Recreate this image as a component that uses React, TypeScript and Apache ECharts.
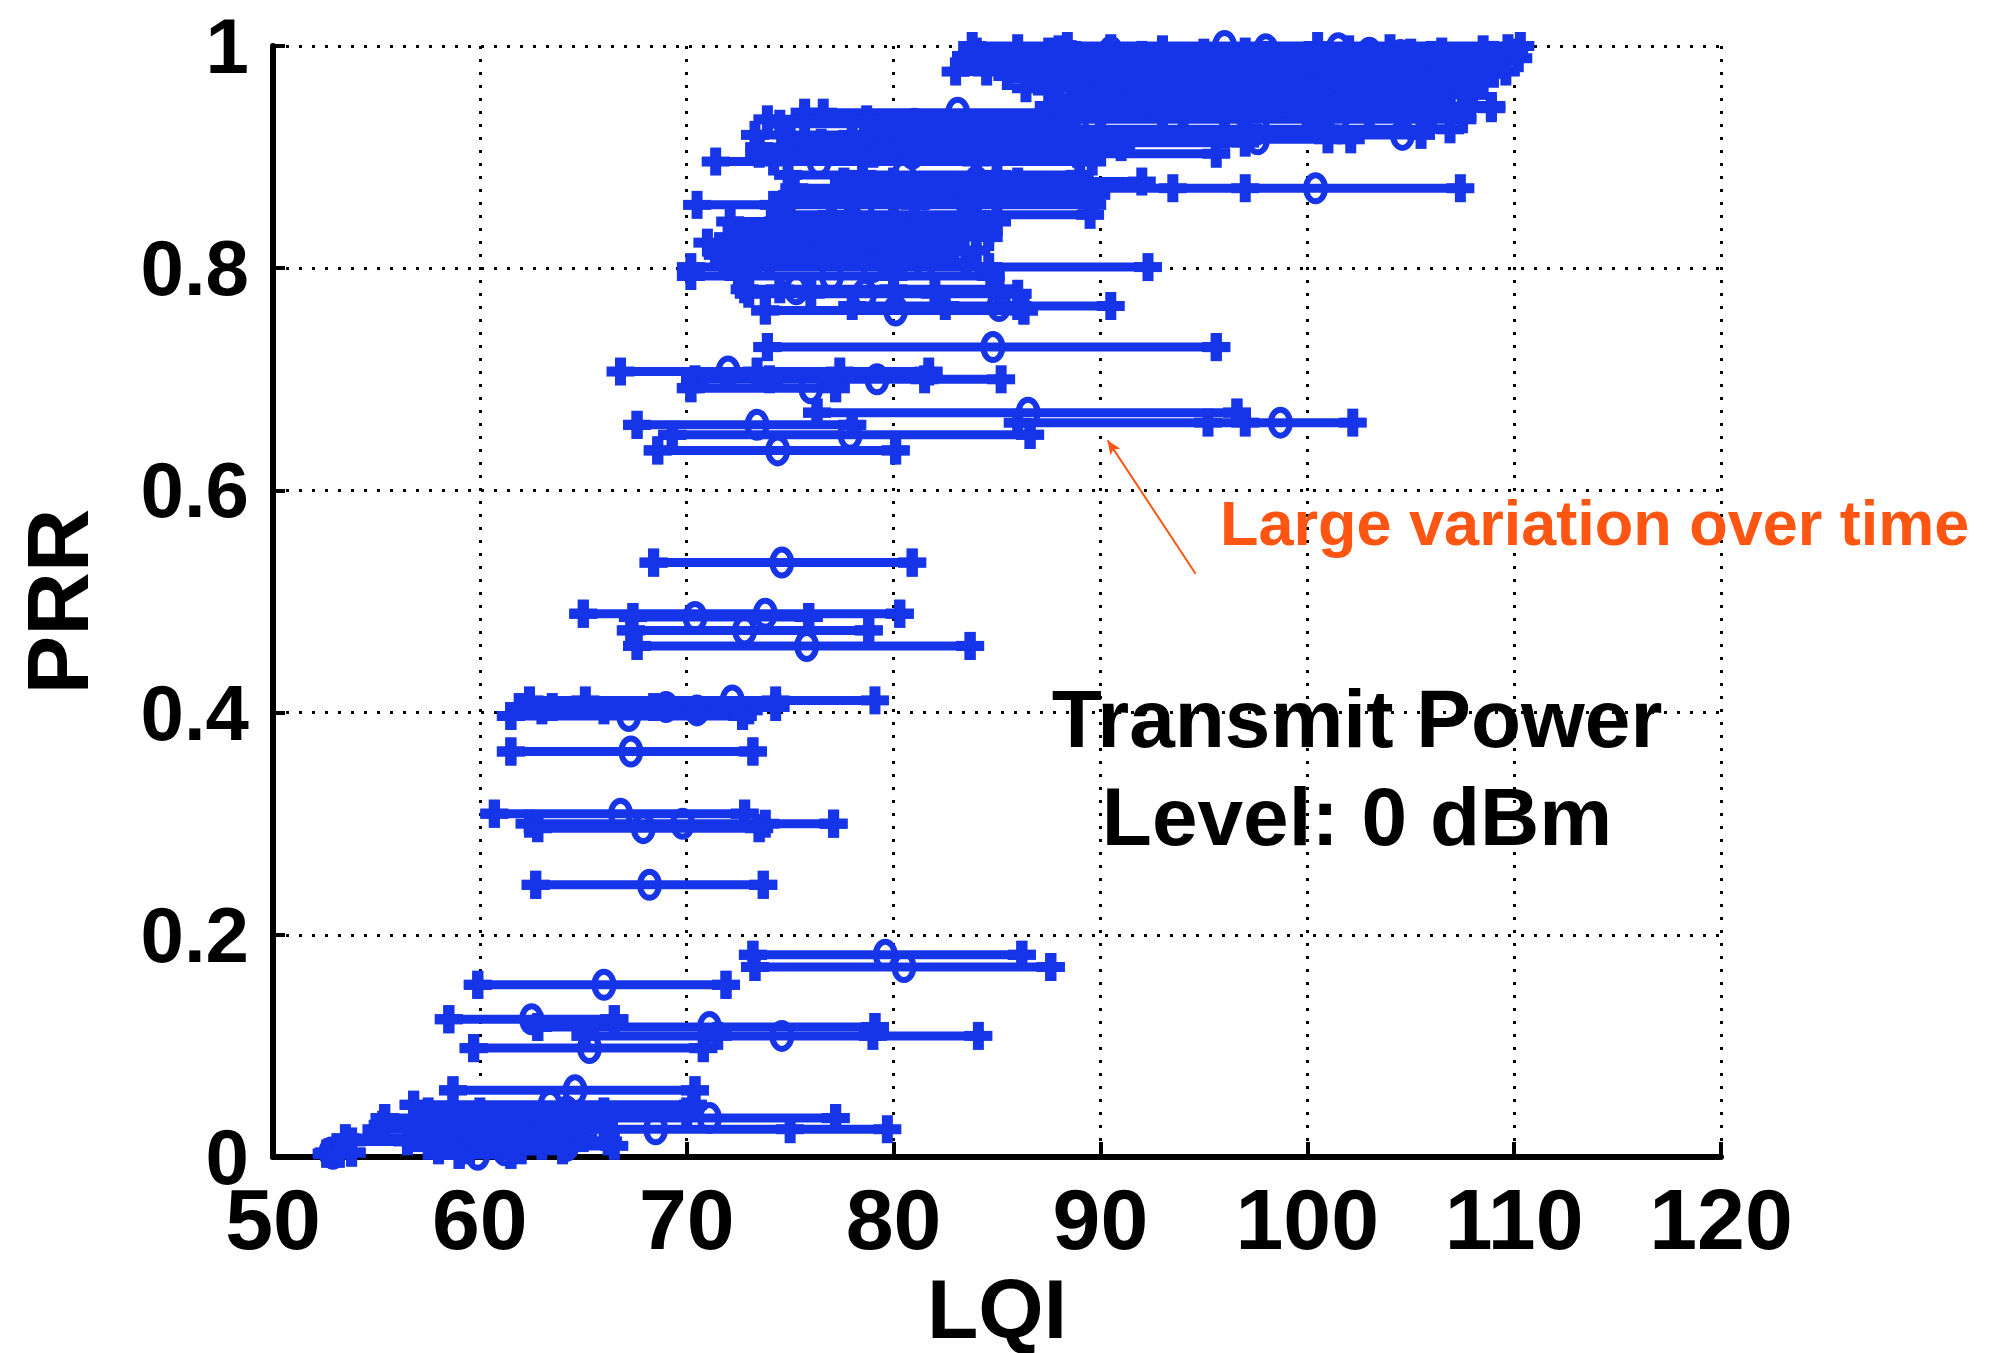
import { useEffect, useRef } from "react";
import * as echarts from "echarts";

// Each link: [PRR, LQI min, inner mark, inner mark, LQI max, centre marker]
type Link = [number, number, number, number, number, number];

const xTickValues = [50, 60, 70, 80, 90, 100, 110, 120];
const yTickValues = [0, 0.2, 0.4, 0.6, 0.8, 1];

const bottomLinks: Link[] = [
  [0.060, 58.7, 58.7, 70.4, 70.4, 64.6],
  [0.047, 56.8, 56.8, 70.3, 70.3, 63.4],
  [0.041, 57.5, 60.0, 66.0, 70.0, 64.2],
  [0.035, 55.4, 55.4, 77.2, 77.2, 71.1],
  [0.029, 55.3, 58.0, 63.0, 66.0, 63.6],
  [0.025, 55.0, 60.0, 75.0, 79.7, 68.5],
  [0.022, 57.8, 58.5, 62.5, 63.5, 60.0],
  [0.017, 53.5, 57.0, 63.0, 65.0, 61.0],
  [0.014, 53.8, 56.5, 62.5, 66.2, 60.5],
  [0.010, 57.5, 58.5, 63.0, 66.5, 64.2],
  [0.006, 58.0, 59.5, 62.0, 64.0, 61.2],
  [0.004, 52.7, 52.7, 53.8, 53.8, 52.8],
  [0.003, 52.6, 52.6, 53.2, 53.2, 52.9],
  [0.002, 59.0, 59.0, 61.5, 61.5, 59.9],
];

const lowLinks: Link[] = [
  [0.182, 73.2, 73.2, 86.2, 86.2, 79.6],
  [0.171, 73.3, 73.3, 87.6, 87.6, 80.5],
  [0.155, 59.9, 59.9, 71.9, 71.9, 66.0],
  [0.124, 58.5, 58.5, 66.5, 66.5, 62.5],
  [0.117, 62.8, 62.8, 79.1, 79.1, 71.1],
  [0.109, 65.1, 71.5, 79.0, 84.1, 74.6],
  [0.098, 59.7, 59.7, 70.8, 70.8, 65.3],
];

const middleLinks: Link[] = [
  [0.245, 62.7, 62.7, 73.7, 73.7, 68.2],
  [0.309, 60.7, 60.7, 72.8, 72.8, 66.8],
  [0.300, 62.4, 73.8, 77.1, 77.1, 69.8],
  [0.296, 62.8, 62.8, 73.5, 73.5, 67.9],
  [0.365, 61.5, 61.5, 73.2, 73.2, 67.3],
  [0.411, 62.4, 65.1, 74.3, 79.1, 72.2],
  [0.405, 61.9, 63.5, 68.4, 74.3, 69.0],
  [0.402, 63.0, 66.0, 70.5, 73.0, 70.5],
  [0.397, 61.5, 61.5, 72.7, 72.7, 67.2],
  [0.460, 67.6, 67.6, 83.7, 83.7, 75.8],
  [0.474, 67.3, 67.3, 78.8, 78.8, 72.8],
  [0.486, 67.4, 67.4, 75.9, 75.9, 70.4],
  [0.489, 65.0, 65.0, 80.3, 80.3, 73.8],
  [0.535, 68.4, 68.4, 80.9, 80.9, 74.6],
];

const upperMiddleLinks: Link[] = [
  [0.729, 73.9, 73.9, 95.6, 95.6, 84.8],
  [0.707, 66.8, 73.4, 77.4, 81.7, 72.0],
  [0.700, 70.4, 74.0, 81.5, 85.2, 79.2],
  [0.692, 70.2, 70.2, 77.2, 77.2, 76.0],
  [0.670, 76.3, 76.3, 96.6, 96.6, 86.5],
  [0.661, 86.0, 95.2, 97.0, 102.2, 98.7],
  [0.659, 67.6, 67.6, 78.0, 78.0, 73.4],
  [0.650, 69.3, 69.3, 86.6, 86.6, 77.9],
  [0.636, 68.6, 68.6, 80.1, 80.1, 74.4],
];

const upperLinks: Link[] = [
  [0.766, 78.0, 82.5, 86.0, 90.5, 85.1],
  [0.762, 73.8, 73.8, 86.3, 86.3, 80.1],
  [0.781, 72.8, 74.5, 80.0, 85.1, 75.3],
  [0.777, 73.0, 76.0, 82.0, 86.0, 78.6],
  [0.793, 70.2, 72.5, 80.0, 84.7, 77.0],
  [0.801, 70.2, 73.0, 84.6, 92.3, 79.0],
  [0.805, 71.8, 74.0, 79.5, 83.5, 81.5],
  [0.812, 71.5, 75.0, 80.0, 82.5, 77.0],
  [0.816, 72.5, 76.5, 82.0, 84.0, 79.0],
  [0.823, 71.0, 73.0, 79.0, 83.0, 76.5],
  [0.828, 72.0, 74.5, 81.0, 84.6, 78.0],
  [0.834, 72.5, 74.0, 82.0, 84.6, 77.5],
  [0.842, 72.1, 75.0, 80.0, 85.0, 78.0],
  [0.848, 74.5, 77.0, 84.0, 89.5, 80.5],
  [0.857, 70.5, 74.2, 81.0, 89.6, 78.5],
  [0.862, 74.9, 78.0, 83.5, 89.5, 83.5],
  [0.866, 75.1, 79.0, 84.0, 89.8, 81.5],
  [0.872, 75.2, 93.5, 97.0, 107.4, 100.4],
  [0.878, 77.6, 80.0, 86.0, 92.0, 84.0],
  [0.884, 74.9, 78.5, 85.0, 89.0, 80.5],
  [0.896, 71.4, 74.2, 84.0, 89.6, 76.4],
  [0.903, 73.5, 79.0, 88.9, 95.6, 80.9],
  [0.909, 73.5, 76.0, 85.0, 91.0, 79.5],
];

const nearTopLinks: Link[] = [
  [0.944, 91.1, 93.0, 95.4, 108.9, 100.0],
  [0.940, 75.7, 76.6, 88.0, 100.0, 83.1],
  [0.934, 73.9, 75.7, 78.7, 107.5, 89.7],
  [0.930, 74.5, 84.1, 86.4, 88.4, 81.0],
  [0.925, 79.0, 84.0, 100.9, 106.9, 97.6],
  [0.920, 73.3, 78.0, 96.0, 105.5, 104.6],
  [0.916, 75.0, 88.0, 101.0, 102.1, 97.6],
  [0.913, 76.5, 80.0, 90.0, 97.0, 79.5],
];

const topLinks: Link[] = [
  [0.937, 93.0, 97.0, 103.0, 107.5, 101.5],
  [0.940, 90.0, 94.0, 100.5, 106.0, 97.0],
  [0.946, 87.5, 92.0, 101.0, 108.9, 97.0],
  [0.950, 91.0, 95.5, 101.5, 106.5, 99.0],
  [0.953, 88.0, 92.5, 99.0, 105.0, 96.0],
  [0.956, 93.0, 97.5, 103.5, 108.0, 100.5],
  [0.959, 89.0, 94.0, 102.0, 107.5, 98.5],
  [0.962, 86.4, 92.0, 100.0, 106.1, 96.5],
  [0.965, 95.0, 98.5, 103.0, 107.1, 101.5],
  [0.968, 87.0, 91.0, 101.0, 106.0, 97.5],
  [0.970, 92.5, 97.0, 104.5, 108.5, 101.0],
  [0.973, 85.5, 89.0, 96.0, 102.0, 92.5],
  [0.975, 90.0, 94.5, 104.0, 109.0, 100.0],
  [0.977, 83.0, 84.5, 99.0, 109.6, 93.0],
  [0.979, 86.0, 90.0, 98.0, 105.5, 94.5],
  [0.981, 96.0, 100.0, 105.0, 108.8, 103.0],
  [0.983, 88.5, 93.0, 103.0, 108.0, 99.5],
  [0.985, 83.4, 87.0, 95.0, 103.0, 91.0],
  [0.987, 94.0, 99.0, 106.0, 109.5, 103.5],
  [0.989, 85.0, 89.0, 100.0, 110.2, 97.0],
  [0.991, 83.5, 86.0, 92.0, 104.0, 88.7],
  [0.992, 92.0, 98.0, 106.0, 109.0, 104.5],
  [0.994, 90.5, 95.0, 105.0, 110.0, 103.0],
  [0.995, 84.0, 87.5, 97.0, 106.5, 90.5],
  [0.997, 88.0, 93.0, 102.0, 108.5, 98.0],
  [0.998, 86.0, 90.5, 104.0, 109.7, 101.5],
  [1.000, 83.8, 88.4, 100.5, 110.3, 96.0],
];

// Annotation arrow, in data coordinates: tail then head
const arrowTail = [94.6, 0.525];
const arrowHead = [90.35, 0.645];

const BLUE = "#1634e8";
const ORANGE = "#ff5512";
const FONT = "Liberation Sans";

export default function App() {
  const ref = useRef<HTMLDivElement>(null);

  useEffect(() => {
    document.body.style.margin = "0";
    if (!ref.current) return;
    const chart = echarts.init(ref.current, null, { renderer: "svg" });

    const links: Link[] = [
      ...bottomLinks,
      ...lowLinks,
      ...middleLinks,
      ...upperMiddleLinks,
      ...upperLinks,
      ...nearTopLinks,
      ...topLinks,
    ];

    const gridLine = { show: true, lineStyle: { color: "#000", width: 3, type: [3, 10] as number[] } };

    chart.setOption({
      animation: false,
      backgroundColor: "#fff",
      grid: { left: 273, right: 271, top: 46, bottom: 196, outerBoundsMode: "none", containLabel: false },
      xAxis: {
        type: "value",
        min: xTickValues[0],
        max: xTickValues[xTickValues.length - 1],
        interval: 10,
        name: "LQI",
        nameLocation: "middle",
        nameGap: 88,
        nameTextStyle: { fontFamily: FONT, fontWeight: "bold", fontSize: 84, lineHeight: 80, color: "#000" },
        axisLine: { show: true, onZero: false, lineStyle: { color: "#000", width: 6 } },
        axisTick: { show: true, inside: true, length: 15, lineStyle: { color: "#000", width: 4 } },
        axisLabel: { fontFamily: FONT, fontWeight: "bold", fontSize: 86, color: "#000", margin: 19 },
        splitLine: gridLine,
      },
      yAxis: {
        type: "value",
        min: yTickValues[0],
        max: yTickValues[yTickValues.length - 1],
        interval: 0.2,
        name: "PRR",
        nameLocation: "middle",
        nameRotate: 90,
        nameGap: 172,
        nameTextStyle: { fontFamily: FONT, fontWeight: "bold", fontSize: 88, color: "#000" },
        axisLine: { show: true, onZero: false, lineStyle: { color: "#000", width: 6 } },
        axisTick: { show: true, inside: true, length: 12, lineStyle: { color: "#000", width: 4 } },
        axisLabel: { fontFamily: FONT, fontWeight: "bold", fontSize: 78, color: "#000", margin: 24 },
        splitLine: gridLine,
      },
      series: [
        {
          type: "custom",
          data: links,
          dimensions: ["prr", "min", "a", "b", "max", "centre"],
          encode: { x: [1, 2, 3, 4, 5], y: 0 },
          clip: false,
          renderItem: (_params: any, api: any) => {
            const prr = api.value(0);
            const marks = [1, 2, 3, 4].map((d) => api.coord([api.value(d), prr]));
            const c = api.coord([api.value(5), prr]);
            const first = marks[0];
            const last = marks[3];
            const children: any[] = [
              {
                type: "line",
                shape: { x1: first[0], y1: first[1], x2: last[0], y2: last[1] },
                style: { stroke: BLUE, lineWidth: 9 },
              },
            ];
            marks.forEach((p: number[]) => {
              children.push({
                type: "rect",
                shape: { x: p[0] - 5.5, y: p[1] - 14, width: 11, height: 28 },
                style: { fill: BLUE },
              });
              children.push({
                type: "rect",
                shape: { x: p[0] - 14, y: p[1] - 5, width: 28, height: 10 },
                style: { fill: BLUE },
              });
            });
            children.push({
              type: "ellipse",
              shape: { cx: c[0], cy: c[1], rx: 9.5, ry: 13 },
              style: { fill: "none", stroke: BLUE, lineWidth: 6 },
            });
            return { type: "group", children };
          },
          z: 3,
        },
        {
          type: "line",
          data: [],
          silent: true,
          markLine: {
            silent: true,
            symbol: ["none", "arrow"],
            symbolSize: [9, 14],
            label: { show: false },
            lineStyle: { color: ORANGE, width: 2, type: "solid" },
            data: [[{ coord: arrowTail }, { coord: arrowHead }]],
          },
          z: 4,
        },
      ],
      graphic: [
        {
          type: "text",
          x: 1220,
          y: 523,
          style: {
            text: "Large variation over time",
            fontFamily: FONT,
            fontWeight: "bold",
            fontSize: 63,
            fill: ORANGE,
            align: "left",
            verticalAlign: "middle",
          },
          z: 10,
        },
        {
          type: "text",
          x: 1357,
          y: 718,
          style: {
            text: "Transmit Power",
            fontFamily: FONT,
            fontWeight: "bold",
            fontSize: 82,
            fill: "#000",
            align: "center",
            verticalAlign: "middle",
          },
          z: 10,
        },
        {
          type: "text",
          x: 1357,
          y: 816,
          style: {
            text: "Level: 0 dBm",
            fontFamily: FONT,
            fontWeight: "bold",
            fontSize: 82,
            fill: "#000",
            align: "center",
            verticalAlign: "middle",
          },
          z: 10,
        },
      ],
    });

    return () => chart.dispose();
  }, []);

  return <div ref={ref} style={{ width: 1992, height: 1353 }} />;
}
